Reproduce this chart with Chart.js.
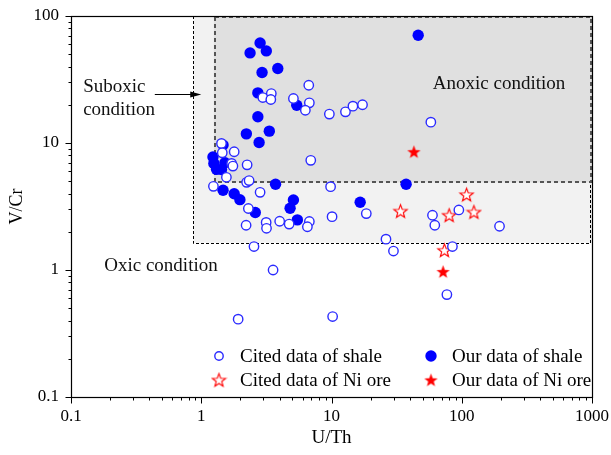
<!DOCTYPE html>
<html><head><meta charset="utf-8">
<script src="https://cdn.jsdelivr.net/npm/chart.js@4.4.0/dist/chart.umd.min.js"></script>
<style>html,body{margin:0;padding:0;background:#fff;overflow:hidden}canvas{display:block}</style>
</head><body>
<canvas id="c" width="611" height="455"></canvas>
<script>
// ---- data (U/Th on x, V/Cr on y) ----
const citedShaleU = [6.69, 3.45, 2.97, 3.42, 5.10, 6.76, 6.30, 9.63, 12.8, 14.6, 17.3, 57.9, 1.43, 1.45, 1.79, 1.71, 1.75, 2.25, 6.93, 1.56, 2.23, 2.33, 1.24, 2.83, 9.84, 2.30, 2.21, 3.15, 3.17, 4.00, 4.73, 6.76, 6.53, 10.1, 18.5, 26.2, 29.9, 2.54, 3.56, 1.92, 10.2, 59.6, 62.1, 95.0, 195, 84.8, 76.9];
const citedShaleV = [28.5, 24.5, 22.8, 22.0, 22.4, 20.7, 18.1, 16.9, 17.6, 19.5, 20.0, 14.6, 9.93, 8.37, 8.53, 6.91, 6.58, 6.73, 7.30, 5.37, 4.90, 5.06, 4.56, 4.09, 4.53, 3.05, 2.25, 2.37, 2.13, 2.42, 2.30, 2.41, 2.19, 2.63, 2.78, 1.75, 1.41, 1.53, 1.00, 0.41, 0.43, 2.70, 2.25, 2.97, 2.21, 1.53, 0.64];
const ourShaleU = [46.3, 2.83, 2.37, 3.16, 2.93, 3.87, 2.72, 5.41, 2.72, 2.22, 3.33, 2.78, 1.47, 1.23, 1.25, 1.52, 1.31, 1.43, 1.47, 1.79, 1.98, 2.60, 3.72, 5.10, 4.81, 5.47, 16.6, 37.4];
const ourShaleV = [70.5, 61.3, 51.2, 53.1, 35.9, 38.6, 24.8, 19.8, 16.1, 11.8, 12.4, 10.1, 9.63, 7.75, 6.91, 6.99, 6.20, 6.18, 4.24, 3.99, 3.58, 2.84, 4.74, 3.56, 3.06, 2.48, 3.42, 4.74];
const citedOreU = [33.9, 109, 80.0, 124, 73.6];
const citedOreV = [2.91, 3.92, 2.70, 2.86, 1.43];
const ourOreU = [42.9, 71.9];
const ourOreV = [8.53, 0.97];
const seriesLabels = ['Cited data of shale', 'Our data of shale', 'Cited data of Ni ore', 'Our data of Ni ore'];
const xTickValues = [0.1, 1, 10, 100, 1000];
const yTickValues = [0.1, 1, 10, 100];
// field boundaries
const suboxicU = [0.87, 1000], suboxicV = [1.64, 100];
const anoxicU = [1.25, 1000], anoxicV = [4.9, 100];

const FONT = '"Liberation Serif", "Times New Roman", serif';
const pts = (U, V) => U.map((u, i) => ({x: u, y: V[i]}));

function makeStar(filled) {
  const s = 17, c = document.createElement('canvas'); c.width = s; c.height = s;
  const g = c.getContext('2d'); const R = 7, r = 2.9, cx = s / 2, cy = s / 2 + 0.6;
  g.beginPath();
  for (let i = 0; i < 10; i++) {
    const a = -Math.PI / 2 + i * Math.PI / 5, rad = i % 2 ? r : R;
    g.lineTo(cx + rad * Math.cos(a), cy + rad * Math.sin(a));
  }
  g.closePath();
  if (filled) { g.fillStyle = '#ff0000'; g.fill(); }
  else { g.fillStyle = '#fff'; g.fill(); g.strokeStyle = '#ff0000'; g.lineWidth = 1.1; g.stroke(); }
  return c;
}
const openStar = makeStar(false), fullStar = makeStar(true);

const regionsPlugin = {
  id: 'regions',
  beforeDatasetsDraw(chart) {
    const {ctx, scales: {x, y}} = chart;
    const box = (U, V) => [x.getPixelForValue(U[0]), y.getPixelForValue(V[1]), x.getPixelForValue(U[1]), y.getPixelForValue(V[0])];
    ctx.save();
    let [x0, y0, x1, y1] = box(suboxicU, suboxicV);
    ctx.fillStyle = '#f2f2f2'; ctx.fillRect(x0, y0, x1 - x0, y1 - y0);
    ctx.setLineDash([3, 2]); ctx.strokeStyle = '#000'; ctx.lineWidth = 1;
    const L = Math.round(x0) + 0.5, B = Math.round(y1) + 0.5, Rr = Math.round(x1) - 1.5;
    ctx.beginPath(); ctx.moveTo(L, y0); ctx.lineTo(L, B); ctx.lineTo(Rr, B); ctx.lineTo(Rr, y0); ctx.stroke();
    [x0, y0, x1, y1] = box(anoxicU, anoxicV);
    ctx.setLineDash([]);
    ctx.fillStyle = '#e0e0e0'; ctx.fillRect(x0, y0, x1 - x0, y1 - y0);
    ctx.setLineDash([4, 3]); ctx.strokeStyle = '#555'; ctx.lineWidth = 2;
    const L2 = Math.round(x0) + 1, B2 = Math.round(y1), R2 = Math.round(x1) - 1, T2 = Math.round(y0) + 1;
    ctx.beginPath(); ctx.moveTo(L2, T2); ctx.lineTo(L2, B2); ctx.lineTo(R2, B2); ctx.lineTo(R2, T2); ctx.lineTo(L2, T2); ctx.stroke();
    ctx.restore();
  },
  afterDraw(chart) {
    const {ctx, chartArea: a, scales: {x, y}} = chart;
    ctx.save();
    // annotations
    ctx.fillStyle = '#111'; ctx.font = '19px ' + FONT; ctx.textAlign = 'left'; ctx.textBaseline = 'middle';
    ctx.fillText('Anoxic condition', x.getPixelForValue(60), y.getPixelForValue(29));
    ctx.fillText('Suboxic', x.getPixelForValue(0.124), y.getPixelForValue(27.7));
    ctx.fillText('condition', x.getPixelForValue(0.124), y.getPixelForValue(18.2));
    ctx.fillText('Oxic condition', x.getPixelForValue(0.18), y.getPixelForValue(1.08));
    // arrow
    const ay = Math.round(y.getPixelForValue(24.2)) + 0.5, ax0 = x.getPixelForValue(0.44), ax1 = x.getPixelForValue(1.0);
    ctx.strokeStyle = '#000'; ctx.lineWidth = 1;
    ctx.beginPath(); ctx.moveTo(ax0, ay); ctx.lineTo(ax1 - 8, ay); ctx.stroke();
    ctx.fillStyle = '#000';
    ctx.beginPath(); ctx.moveTo(ax1, ay); ctx.lineTo(ax1 - 11, ay - 3); ctx.lineTo(ax1 - 11, ay + 3); ctx.closePath(); ctx.fill();
    // axis box
    ctx.strokeStyle = '#000'; ctx.lineWidth = 1.2;
    ctx.strokeRect(Math.round(a.left) + 0.5, Math.round(a.top) + 0.5, Math.round(a.right - a.left), Math.round(a.bottom - a.top));
    // ticks (outward, major + minor)
    ctx.lineWidth = 1;
    ctx.beginPath();
    const xb = Math.round(a.bottom) + 0.5;
    for (let d = 0; d < xTickValues.length; d++) {
      const base = xTickValues[d];
      for (let m = 1; m <= 9; m++) {
        const v = base * m; if (v > xTickValues[xTickValues.length - 1] + 1e-9) break;
        const px = Math.round(x.getPixelForValue(v)) + 0.5, len = m === 1 ? 6 : 3;
        ctx.moveTo(px, xb); ctx.lineTo(px, xb + len);
      }
    }
    const yl = Math.round(a.left) + 0.5;
    for (let d = 0; d < yTickValues.length; d++) {
      const base = yTickValues[d];
      for (let m = 1; m <= 9; m++) {
        const v = base * m; if (v > yTickValues[yTickValues.length - 1] + 1e-9) break;
        const py = Math.round(y.getPixelForValue(v)) + 0.5, len = m === 1 ? 6 : 3;
        ctx.moveTo(yl, py); ctx.lineTo(yl - len, py);
      }
    }
    ctx.stroke();
    // legend
    const ds = chart.data.datasets;
    const cols = [a.left + 148, a.left + 360], rows = [a.bottom - 41, a.bottom - 17];
    ctx.font = '19px ' + FONT; ctx.fillStyle = '#000'; ctx.textBaseline = 'middle';
    [0, 1, 2, 3].forEach((di, k) => {
      const d = ds[di], cx = cols[k % 2], cy = rows[Math.floor(k / 2)];
      ctx.save();
      ctx.fillStyle = d.pointBackgroundColor; ctx.strokeStyle = d.pointBorderColor || d.pointBackgroundColor;
      ctx.lineWidth = d.pointBorderWidth || 0;
      const rad = d.legendRadius || d.pointRadius;
      Chart.helpers.drawPoint(ctx, {pointStyle: d.pointStyle, radius: rad, borderWidth: d.pointBorderWidth || 0, rotation: 0}, cx, cy);
      ctx.restore();
      ctx.fillStyle = '#000';
      ctx.fillText(d.label, cx + 21, cy + 1);
    });
    ctx.restore();
  }
};

const noPad = s => { s.paddingLeft = 0; s.paddingRight = 0; s.paddingTop = 0; s.paddingBottom = 0; };

new Chart(document.getElementById('c'), {
  type: 'scatter',
  data: {
    datasets: [
      {label: seriesLabels[0], data: pts(citedShaleU, citedShaleV), pointStyle: 'circle', pointRadius: 4.7, legendRadius: 4.2, pointBorderWidth: 1.4, pointBorderColor: '#2b2bff', pointBackgroundColor: '#ffffff'},
      {label: seriesLabels[1], data: pts(ourShaleU, ourShaleV), pointStyle: 'circle', pointRadius: 5.7, pointBorderWidth: 0, pointBorderColor: '#0000ff', pointBackgroundColor: '#0000ff'},
      {label: seriesLabels[2], data: pts(citedOreU, citedOreV), pointStyle: openStar, pointRadius: 6, pointBorderWidth: 0, pointBackgroundColor: '#ffffff', pointBorderColor: '#ff0000'},
      {label: seriesLabels[3], data: pts(ourOreU, ourOreV), pointStyle: fullStar, pointRadius: 6, pointBorderWidth: 0, pointBackgroundColor: '#ff0000', pointBorderColor: '#ff0000'}
    ]
  },
  options: {
    responsive: false, animation: false, events: [],
    layout: {padding: {top: 16, right: 19, left: 0, bottom: 0}},
    plugins: {legend: {display: false}, tooltip: {enabled: false}},
    scales: {
      x: {
        type: 'logarithmic', position: 'bottom', min: 0.1, max: 1000,
        grid: {display: false, drawTicks: false}, border: {display: false},
        ticks: {color: '#000', font: {family: FONT, size: 17}, padding: 9, maxRotation: 0, autoSkip: false, callback: v => String(v)},
        title: {display: true, text: 'U/Th', color: '#000', font: {family: FONT, size: 19}, padding: {top: 0, bottom: 6}},
        afterBuildTicks: s => { s.ticks = xTickValues.map(v => ({value: v})); },
        afterFit: s => { s.height = 58; noPad(s); }
      },
      y: {
        type: 'logarithmic', position: 'left', min: 0.1, max: 100,
        grid: {display: false, drawTicks: false}, border: {display: false},
        ticks: {color: '#000', font: {family: FONT, size: 17}, padding: 12, autoSkip: false, callback: v => String(v)},
        title: {display: true, text: 'V/Cr', color: '#000', font: {family: FONT, size: 18}, padding: {top: 6, bottom: 0}},
        afterBuildTicks: s => { s.ticks = yTickValues.map(v => ({value: v})); },
        afterFit: s => { s.width = 71; noPad(s); }
      }
    }
  },
  plugins: [regionsPlugin]
});
</script>
</body></html>
